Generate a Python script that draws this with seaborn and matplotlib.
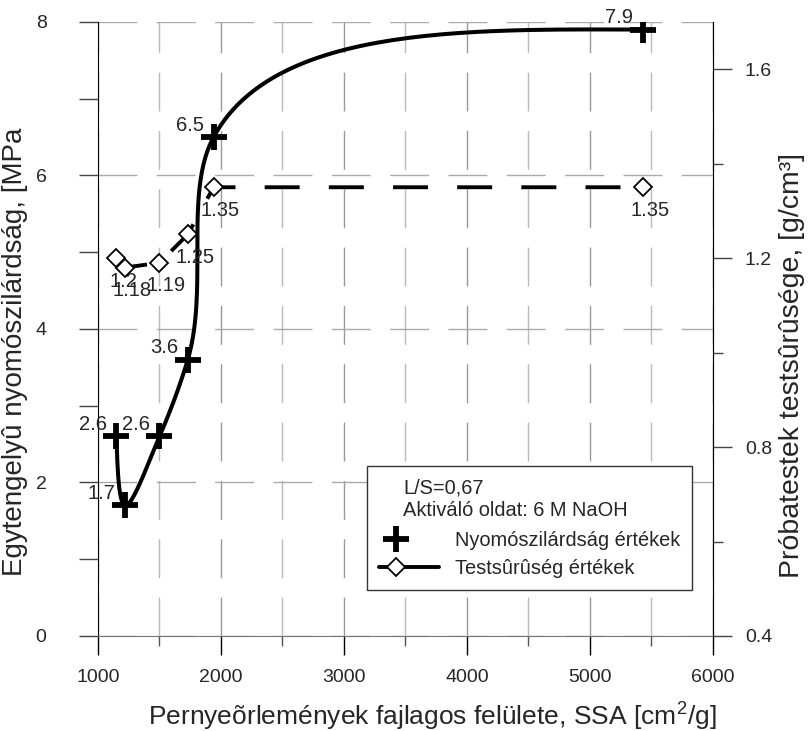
import numpy as np
import matplotlib
matplotlib.use("Agg")
import matplotlib.pyplot as plt
import seaborn as sns
from matplotlib.lines import Line2D
from matplotlib.legend_handler import HandlerLine2D
from matplotlib.ticker import MultipleLocator

# data
ssa = [1150, 1220, 1500, 1730, 1940, 5430]
strength = [2.6, 1.7, 2.6, 3.6, 6.5, 7.9]
strength_labels = ["2.6", "1.7", "2.6", "3.6", "6.5", "7.9"]
density = [1.2, 1.18, 1.19, 1.25, 1.35, 1.35]
density_labels = ["1.2", "1.18", "1.19", "1.25", "1.35", "1.35"]
legend_labels = ["Nyomószilárdság értékek", "Testsûrûség értékek"]
legend_notes = ["L/S=0,67", "Aktiváló oldat: 6 M NaOH"]

sns.set_style("white")
plt.rcParams["font.family"] = ["Liberation Sans", "DejaVu Sans"]

XMIN, XMAX = 1000, 6000
Y1MIN, Y1MAX = 0, 8
Y2MIN, Y2MAX = 0.4, 1.7
W_PX, H_PX = 615, 614


def smooth_curve(x, y, ymin, ymax, n=60):
    # chord-length Hermite (Catmull-Rom style) spline, drawn in pixel space
    P = np.column_stack([(np.asarray(x, float) - XMIN) / (XMAX - XMIN) * W_PX,
                         (np.asarray(y, float) - ymin) / (ymax - ymin) * H_PX])
    d = np.hypot(*np.diff(P, axis=0).T)
    k = len(P)
    m = np.zeros_like(P)
    for i in range(1, k - 1):
        a = (P[i] - P[i - 1]) / d[i - 1]
        b = (P[i + 1] - P[i]) / d[i]
        m[i] = (a * d[i] + b * d[i - 1]) / (d[i - 1] + d[i])
    m[0] = (3 * (P[1] - P[0]) / d[0] - m[1]) / 2
    m[-1] = (3 * (P[-1] - P[-2]) / d[-1] - m[-2]) / 2
    s = np.linspace(0, 1, n)[:, None]
    h00 = 2 * s**3 - 3 * s**2 + 1
    h10 = s**3 - 2 * s**2 + s
    h01 = -2 * s**3 + 3 * s**2
    h11 = s**3 - s**2
    pts = []
    for i in range(k - 1):
        seg = h00 * P[i] + h10 * d[i] * m[i] + h01 * P[i + 1] + h11 * d[i] * m[i + 1]
        pts.append(seg if i == 0 else seg[1:])
    pts = np.vstack(pts)
    return (pts[:, 0] / W_PX * (XMAX - XMIN) + XMIN,
            pts[:, 1] / H_PX * (ymax - ymin) + ymin)


class LeftMarkerHandler(HandlerLine2D):
    # legend handle with the single marker placed left of the line's centre
    def create_artists(self, legend, orig_handle, xdescent, ydescent,
                       width, height, fontsize, trans):
        x0 = -xdescent
        xdata = np.array([x0, x0 + 0.28 * width, x0 + width])
        ydata = np.full_like(xdata, (height - ydescent) / 2)
        legline = Line2D(xdata, ydata)
        self.update_prop(legline, orig_handle, legend)
        legline.set_markevery([1])
        legline.set_transform(trans)
        return [legline]


fig = plt.figure(figsize=(8.09, 7.31), dpi=100)
ax = fig.add_axes([0.1211, 0.130, 0.7602, 0.840])
ax2 = ax.twinx()

# compressive strength: smooth curve + plus markers
cx, cy = smooth_curve(ssa, strength, Y1MIN, Y1MAX)
sns.lineplot(x=cx, y=cy, ax=ax, color="black", lw=2.9, sort=False,
             estimator=None, zorder=3)
sns.lineplot(x=ssa, y=strength, ax=ax, color="black", marker="+",
             markersize=19, mew=4.2, mec="black", linestyle="", sort=False,
             estimator=None, zorder=4)
for xv, yv, lab in zip(ssa, strength, strength_labels):
    ax.annotate(lab, (xv, yv), xytext=(-7, 8.5), textcoords="offset points",
                ha="right", va="center", fontsize=14.5)

# bulk density: dashed line + diamonds
sns.lineplot(x=ssa, y=density, ax=ax2, color="black", lw=2.8, sort=False,
             estimator=None, zorder=3)
ax2.lines[-1].set_dashes((9, 7.5))
sns.lineplot(x=ssa, y=density, ax=ax2, color="black", marker="D",
             markersize=9.5, mfc="white", mec="black", mew=1.3,
             linestyle="", sort=False, estimator=None, zorder=4)
for xv, yv, lab in zip(ssa, density, density_labels):
    ax2.annotate(lab, (xv, yv), xytext=(5, -16.5), textcoords="offset points",
                 ha="center", va="center", fontsize=14.5)

ax.set_xlim(XMIN, XMAX)
ax.set_ylim(Y1MIN, Y1MAX)
ax2.set_ylim(Y2MIN, Y2MAX)

ax.xaxis.set_major_locator(MultipleLocator(1000))
ax.xaxis.set_minor_locator(MultipleLocator(500))
ax.yaxis.set_major_locator(MultipleLocator(2))
ax.yaxis.set_minor_locator(MultipleLocator(1))
ax2.yaxis.set_minor_locator(MultipleLocator(0.2))
ax2.set_yticks([0.4, 0.8, 1.2, 1.6])
ax2.set_yticklabels(["0.4", "0.8", "1.2", "1.6"])

# dashed grey grid
ax.grid(True, which="major", axis="x", color="#999999", lw=1.0,
        linestyle=(0, (28, 14)))
ax.grid(True, which="minor", axis="x", color="#bbbbbb", lw=1.0,
        linestyle=(0, (28, 14)))
ax.grid(True, which="major", axis="y", color="#aaaaaa", lw=1.0,
        linestyle=(0, (28, 14)))
ax.set_axisbelow(True)

for a in (ax, ax2):
    a.spines["top"].set_visible(False)
ax.spines["bottom"].set_color("#777777")
ax.spines["left"].set_color("black")
ax2.spines["right"].set_color("black")
ax2.spines["left"].set_visible(False)
ax2.spines["bottom"].set_visible(False)

ax.tick_params(axis="x", which="major", direction="out", length=14,
               width=1, color="black", labelsize=14, pad=10, bottom=True)
ax.tick_params(axis="x", which="minor", direction="out", length=7,
               width=1, color="#555555", bottom=True)
ax.tick_params(axis="y", which="both", direction="out", length=14,
               width=1, color="#444444", labelsize=14, pad=23, left=True)
ax2.tick_params(axis="y", which="major", direction="out", length=14,
                width=1, color="#444444", labelsize=14, pad=9, right=True)
ax2.tick_params(axis="y", which="minor", direction="out", length=7,
                width=1, color="#444444", right=True)

ax.set_xlabel("Pernyeõrlemények fajlagos felülete, SSA [cm$^{\\mathregular{2}}$/g]",
              fontsize=19)
ax.xaxis.label.set_va("baseline")
ax.set_ylabel("Egytengelyû nyomószilárdság, [MPa", fontsize=20)
ax2.set_ylabel("Próbatestek testsûrûsége, [g/cm³]", fontsize=20.5)
ax.xaxis.set_label_coords(0.543, -0.145)
ax.yaxis.set_label_coords(-0.113, 0.4625)
ax2.yaxis.set_label_coords(1.107, 0.44)

handles = [
    Line2D([], [], color="black", marker="+", markersize=19, mew=4.2,
           linestyle=""),
    Line2D([], [], color="black", marker="D", markersize=9.5, mfc="white",
           mec="black", mew=1.3, lw=2.8),
]
leg = ax2.legend(handles, legend_labels, title=" \n ",
                 handler_map={Line2D: LeftMarkerHandler()},
                 loc="lower right", bbox_to_anchor=(0.966, 0.075),
                 borderaxespad=0, fontsize=14.4, title_fontsize=17.5,
                 frameon=True, fancybox=False, edgecolor="#333333",
                 framealpha=1, handlelength=3.0, handletextpad=0.8,
                 borderpad=0.6, labelspacing=0.45, alignment="left")
leg.get_frame().set_linewidth(1.0)
leg.get_title().set_linespacing(1.0)
leg.set_zorder(5)

# the two note lines written inside the legend frame, above the entries
for yfrac, note in zip([0.241, 0.205], legend_notes):
    ax2.text(0.496, yfrac, note, transform=ax2.transAxes, fontsize=14.4,
             ha="left", va="center", zorder=6)

fig.savefig("out.png", dpi=100)
